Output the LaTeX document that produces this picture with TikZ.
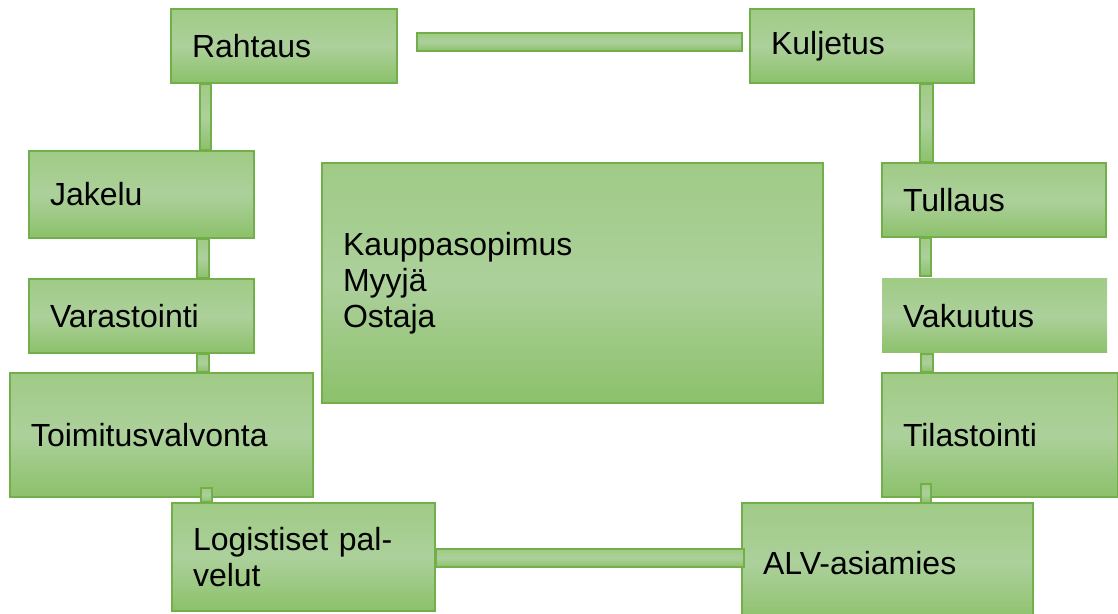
\documentclass[tikz,border=0pt]{standalone}
\usepackage{fontspec}
\setmainfont{Liberation Sans}
\definecolor{boxtop}{HTML}{A0CB86}
\definecolor{boxmid}{HTML}{ACD09B}
\definecolor{boxbot}{HTML}{8CC16A}
\definecolor{boxline}{HTML}{72AE4A}
\tikzset{greenfill/.style={
        top color=boxtop, bottom color=boxbot, middle color=boxmid
    },
    box/.style 2 args={rectangle, anchor=north west, greenfill,
        draw=boxline, line width=1pt, align=left,
        inner xsep=10.5pt, inner ysep=0pt,
        text width=#1, minimum height=#2,
        font=\fontsize{16}{18}\selectfont
    },
    bar/.style={greenfill, draw=boxline, line width=0.8pt}
}

\begin{document}
\begin{tikzpicture}[x=0.5pt,y=-0.5pt]
      \useasboundingbox (0,0) rectangle (1118,614);
      % boxes, top row and left column
      \node[box={92pt}{37pt}] (rahtaus) at (170,8) {Rahtaus};
      \node[box={91pt}{37pt}] (kuljetus) at (749,8) {Kuljetus};
      \node[box={91.5pt}{43.5pt}] (jakelu) at (28,150) {Jakelu};
      \node[box={91.5pt}{37pt}] (varastointi) at (28,278) {Varastointi};
      \node[box={130.5pt}{62pt}] (toimitus) at (9,372) {Toimitusvalvonta};
      \node[box={110.5pt}{54pt}] (logistiset) at (171,502) {Logistiset pal-\\velut};
      % boxes, right column
      \node[box={91pt}{37pt}] (tullaus) at (881,162) {Tullaus};
      \node[box={91.5pt}{37pt},draw=none] (vakuutus) at (881,278) {Vakuutus};
      \node[box={97pt}{62pt}] (tilastointi) at (881,372) {Tilastointi};
      \node[box={124.5pt}{60pt}] (alv) at (741,502) {ALV-asiamies};
      % centre box
      \node[box={229.5pt}{120pt}] (sopimus) at (321,162) {Kauppasopimus\\Myyjä\\Ostaja};
      % connectors
      \draw[bar] ([shift={(19,-13)}]rahtaus.east) rectangle ([shift={(-7,5)}]kuljetus.west);
      \draw[bar] ([shift={(30,0)}]rahtaus.south west) rectangle ([shift={(183,0)}]jakelu.north west);
      \draw[bar] ([shift={(169,0)}]jakelu.south west) rectangle ([shift={(181,0)}]varastointi.north west);
      \draw[bar] ([shift={(169,0)}]varastointi.south west) rectangle ([shift={(200,0)}]toimitus.north west);
      \draw[bar] ([shift={(192,-10)}]toimitus.south west) rectangle ([shift={(41,0)}]logistiset.north west);
      \draw[bar] ([shift={(0,-8)}]logistiset.east) rectangle ([shift={(3,4)}]alv.west);
      \draw[bar] ([shift={(171,0)}]kuljetus.south west) rectangle ([shift={(52,0)}]tullaus.north west);
      \draw[bar] ([shift={(39,0)}]tullaus.south west) rectangle ([shift={(50,-2)}]vakuutus.north west);
      \draw[bar] ([shift={(40,0)}]vakuutus.south west) rectangle ([shift={(52,0)}]tilastointi.north west);
      \draw[bar] ([shift={(40,-14)}]tilastointi.south west) rectangle ([shift={(190,1)}]alv.north west);
    \end{tikzpicture}
\end{document}
